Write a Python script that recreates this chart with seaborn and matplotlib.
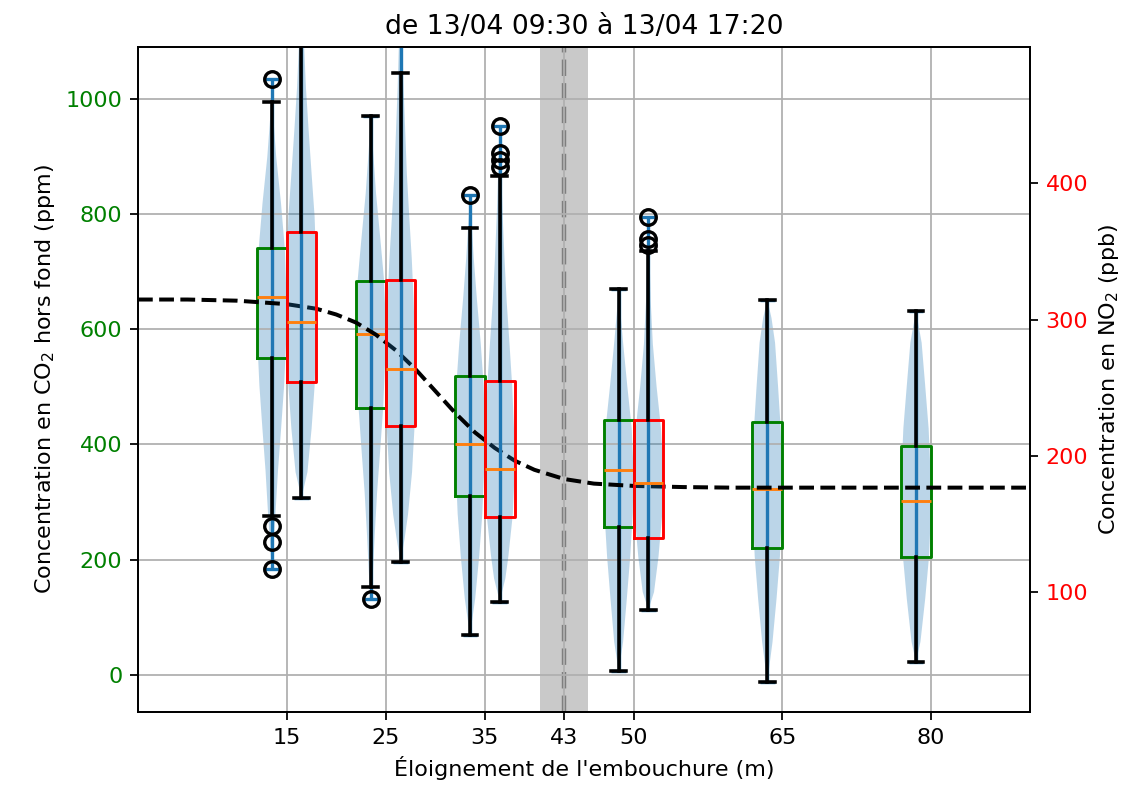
import numpy as np
import seaborn as sns
import matplotlib
matplotlib.use("Agg")
import matplotlib.pyplot as plt

# --- distances (m) ---
co2_positions = [15, 25, 35, 50, 65, 80]
no2_positions = [15, 25, 35, 50]
xtick_values = [15, 25, 35, 43, 50, 65, 80]

# --- CO2 hors fond (ppm), box statistics ---
co2_q1 = [550, 464, 310, 256, 220, 204]
co2_med = [657, 592, 400, 355, 322, 301]
co2_q3 = [742, 684, 519, 442, 439, 398]
co2_whislo = [275, 152, 68, 6, -13, 22]
co2_whishi = [995, 971, 776, 670, 652, 632]
co2_fliers = [[1036, 258, 231, 184], [132], [833], [], [], []]

# --- NO2 (ppb) ---
no2_q1 = [254, 222, 155, 140]
no2_med = [298, 264, 190, 180]
no2_q3 = [364, 329, 255, 226]
no2_whislo = [169, 122, 93, 87]
no2_whishi = [525, 481, 405, 350]
no2_fliers = [[560], [545], [442, 422, 417, 412], [375, 359, 355]]

# --- violin outlines: levels and relative half-widths ---
co2_violin_levels = [
    [184, 230, 280, 355, 428, 502, 575, 650, 740, 820, 900, 970, 1036],
    [132, 169, 243, 317, 391, 465, 539, 614, 688, 762, 836, 910, 971],
    [68, 132, 206, 280, 355, 428, 502, 577, 651, 725, 790, 833],
    [6, 57, 132, 206, 280, 355, 428, 502, 577, 630, 670],
    [-13, 57, 132, 206, 280, 355, 428, 502, 577, 620, 652],
    [22, 57, 132, 206, 280, 355, 428, 502, 577, 632],
]
co2_violin_widths = [
    [0, .12, .25, .42, .63, .83, .96, 1, .88, .62, .3, .1, 0],
    [0, .12, .26, .42, .63, .83, .95, 1, .88, .62, .35, .15, 0],
    [0, .35, .62, .83, .95, 1, .92, .72, .47, .25, .1, 0],
    [0, .3, .55, .78, .95, 1, .88, .58, .3, .12, 0],
    [0, .35, .62, .85, .97, 1, .9, .72, .52, .28, 0],
    [0, .3, .62, .88, 1, .97, .85, .62, .38, 0],
]
no2_violin_levels = [
    [169, 188, 220, 251, 282, 313, 345, 376, 407, 439, 470, 500, 560],
    [122, 140, 157, 188, 220, 251, 282, 313, 345, 376, 407, 470, 545],
    [93, 110, 126, 157, 188, 220, 251, 282, 313, 345, 376, 410, 442],
    [87, 100, 126, 157, 188, 220, 251, 282, 313, 345, 375],
]
no2_violin_widths = [
    [0, .4, .68, .88, .97, 1, .98, .88, .68, .48, .3, .18, 0],
    [0, .28, .5, .77, .93, 1, .97, .88, .75, .58, .42, .2, 0],
    [0, .38, .58, .88, 1, .96, .84, .66, .47, .32, .2, .1, 0],
    [0, .38, .68, .93, 1, .85, .55, .3, .16, .08, 0],
]

# --- dashed model curve (CO2, ppm) ---
curve_x = [0, 5, 10, 15, 18, 20, 22, 24, 26, 28, 30, 32, 34, 36, 38, 40,
           43, 46, 50, 55, 60, 70, 80, 90]
curve_y = [652, 652, 650, 644, 636, 626, 612, 591, 564, 531, 493, 455, 421,
           394, 372, 356, 340, 332, 328, 326, 325, 325, 325, 325]

# --- embouchure zone ---
zone_center = 43
zone_half = 2.4

offset = 1.5
width = 3


def box_stats(q1, med, q3, lo, hi, fliers):
    return [dict(q1=a, med=b, q3=c, whislo=d, whishi=e, fliers=f, mean=b)
            for a, b, c, d, e, f in zip(q1, med, q3, lo, hi, fliers)]


def violin_stats(levels, widths, med):
    out = []
    for lv, wd, m in zip(levels, widths, med):
        out.append(dict(coords=np.array(lv), vals=np.array(wd), mean=m,
                        median=m, min=lv[0], max=lv[-1]))
    return out


def style_violin(parts):
    for b in parts["bodies"]:
        b.set_facecolor("C0")
        b.set_edgecolor("none")
        b.set_alpha(0.3)
    for key in ("cbars", "cmins", "cmaxes"):
        parts[key].set_color("C0")
        parts[key].set_linewidth(1.5)


fig = plt.figure(figsize=(1142 / 160, 795 / 160), dpi=160)
ax1 = fig.add_subplot(111)
fig.subplots_adjust(left=0.1208, right=0.9019, bottom=0.1044, top=0.9409)
ax2 = ax1.twinx()

flierprops = dict(marker="o", markerfacecolor="none", markeredgecolor="k",
                  markersize=7, markeredgewidth=1.5)
whisk = dict(color="k", linewidth=1.6)

# CO2 on the left axis
co2_x = [p - offset for p in co2_positions]
parts = ax1.violin(violin_stats(co2_violin_levels, co2_violin_widths, co2_med),
                   positions=co2_x, widths=width, showextrema=True)
style_violin(parts)
ax1.bxp(box_stats(co2_q1, co2_med, co2_q3, co2_whislo, co2_whishi, co2_fliers),
        positions=co2_x, widths=width, manage_ticks=False,
        boxprops=dict(color="green", linewidth=1.3),
        medianprops=dict(color="C1", linewidth=1.3),
        whiskerprops=whisk, capprops=whisk, flierprops=flierprops)

# NO2 on the right axis
no2_x = [p + offset for p in no2_positions]
parts = ax2.violin(violin_stats(no2_violin_levels, no2_violin_widths, no2_med),
                   positions=no2_x, widths=width, showextrema=True)
style_violin(parts)
ax2.bxp(box_stats(no2_q1, no2_med, no2_q3, no2_whislo, no2_whishi, no2_fliers),
        positions=no2_x, widths=width, manage_ticks=False,
        boxprops=dict(color="red", linewidth=1.3),
        medianprops=dict(color="C1", linewidth=1.3),
        whiskerprops=whisk, capprops=whisk, flierprops=flierprops)

# zone + model
ax1.axvspan(zone_center - zone_half, zone_center + zone_half, color="gray",
            alpha=0.42, linewidth=0, zorder=0.5)
ax1.axvline(zone_center, color="#7f7f7f", linestyle="--", linewidth=2,
            zorder=0.6)
sns.lineplot(x=curve_x, y=curve_y, ax=ax1, color="k", linestyle="--",
             linewidth=1.8, zorder=5)

ax1.set_xlim(0, 90)
ax1.set_xticks(xtick_values)
ax1.set_xticklabels([str(v) for v in xtick_values])
ax1.set_ylim(-65, 1091)
ax1.set_yticks([0, 200, 400, 600, 800, 1000])
ax2.set_ylim(12, 500)
ax2.set_yticks([100, 200, 300, 400])
ax1.tick_params(axis="y", labelcolor="green")
ax2.tick_params(axis="y", labelcolor="red")
ax1.grid(True, color="#b0b0b0", linewidth=0.8)

ax1.set_xlabel("Éloignement de l'embouchure (m)")
ax1.set_ylabel("Concentration en CO$_2$ hors fond (ppm)")
ax2.set_ylabel("Concentration en NO$_2$ (ppb)")
ax1.set_title("de 13/04 09:30 à 13/04 17:20")

fig.savefig("out.png", dpi=160)
plt.close(fig)
